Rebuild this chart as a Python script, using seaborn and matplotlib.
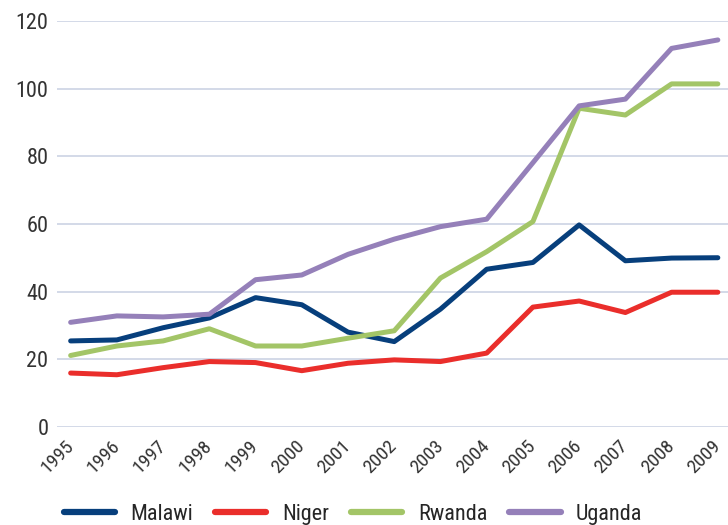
import pandas as pd
import seaborn as sns
import matplotlib.pyplot as plt

years = list(range(1995, 2010))
malawi = [25.4, 25.7, 29.3, 32.2, 38.2, 36.1, 28.0, 25.2, 34.8, 46.6, 48.6, 59.7, 49.1, 49.9, 50.0]
niger = [15.9, 15.4, 17.5, 19.3, 19.0, 16.6, 18.8, 19.8, 19.3, 21.8, 35.4, 37.2, 33.8, 39.8, 39.8]
rwanda = [21.1, 23.9, 25.4, 29.0, 23.9, 23.9, 26.2, 28.4, 44.0, 51.8, 60.7, 94.2, 92.2, 101.4, 101.4]
uganda = [30.9, 32.8, 32.5, 33.3, 43.5, 44.9, 51.0, 55.5, 59.2, 61.4, 78.1, 94.9, 96.9, 111.9, 114.4]

countries = ["Malawi", "Niger", "Rwanda", "Uganda"]
colors = ["#073f7c", "#ea2e2b", "#a3c567", "#9580b9"]

df = pd.DataFrame({"year": years * 4,
                   "value": malawi + niger + rwanda + uganda,
                   "country": [c for c in countries for _ in years]})

sns.set_style("white")
plt.rcParams['font.family'] = ['Roboto Condensed', 'Liberation Sans Narrow',
                               'Liberation Sans', 'DejaVu Sans']

fig = plt.figure(figsize=(7.28, 5.25), dpi=100)
ax = fig.add_axes([0.078, 0.187, 0.922, 0.773])

sns.lineplot(data=df, x="year", y="value", hue="country", palette=colors,
             linewidth=3.6, ax=ax, solid_capstyle="round")

ax.set_xlim(1994.7, 2009.22)
ax.set_ylim(0, 120)
ax.set_yticks(range(0, 121, 20))
ax.set_xticks(years)
ax.set_xticklabels([str(y) for y in years], rotation=45, ha="right",
                   va="center", rotation_mode="anchor")
ax.set_xlabel("")
ax.set_ylabel("")
ax.grid(axis="y", color="#c8cfe2", linewidth=1.1)
ax.set_axisbelow(True)
for s in ax.spines.values():
    s.set_visible(False)
ax.tick_params(axis="y", length=0, labelsize=16, labelcolor="#333333", pad=6)
ax.tick_params(axis="x", length=6, color="#c8cfe2", labelsize=14,
               labelcolor="#333333", pad=6)

ax.legend(loc="center", bbox_to_anchor=(0.485, 0.02),
          bbox_transform=fig.transFigure, ncol=4,
          frameon=False, fontsize=16, handlelength=2.3, columnspacing=1.0,
          handletextpad=0.7)
for line in ax.get_legend().get_lines():
    line.set_linewidth(4.5)
    line.set_solid_capstyle("round")

fig.savefig("out.png", dpi=100)
